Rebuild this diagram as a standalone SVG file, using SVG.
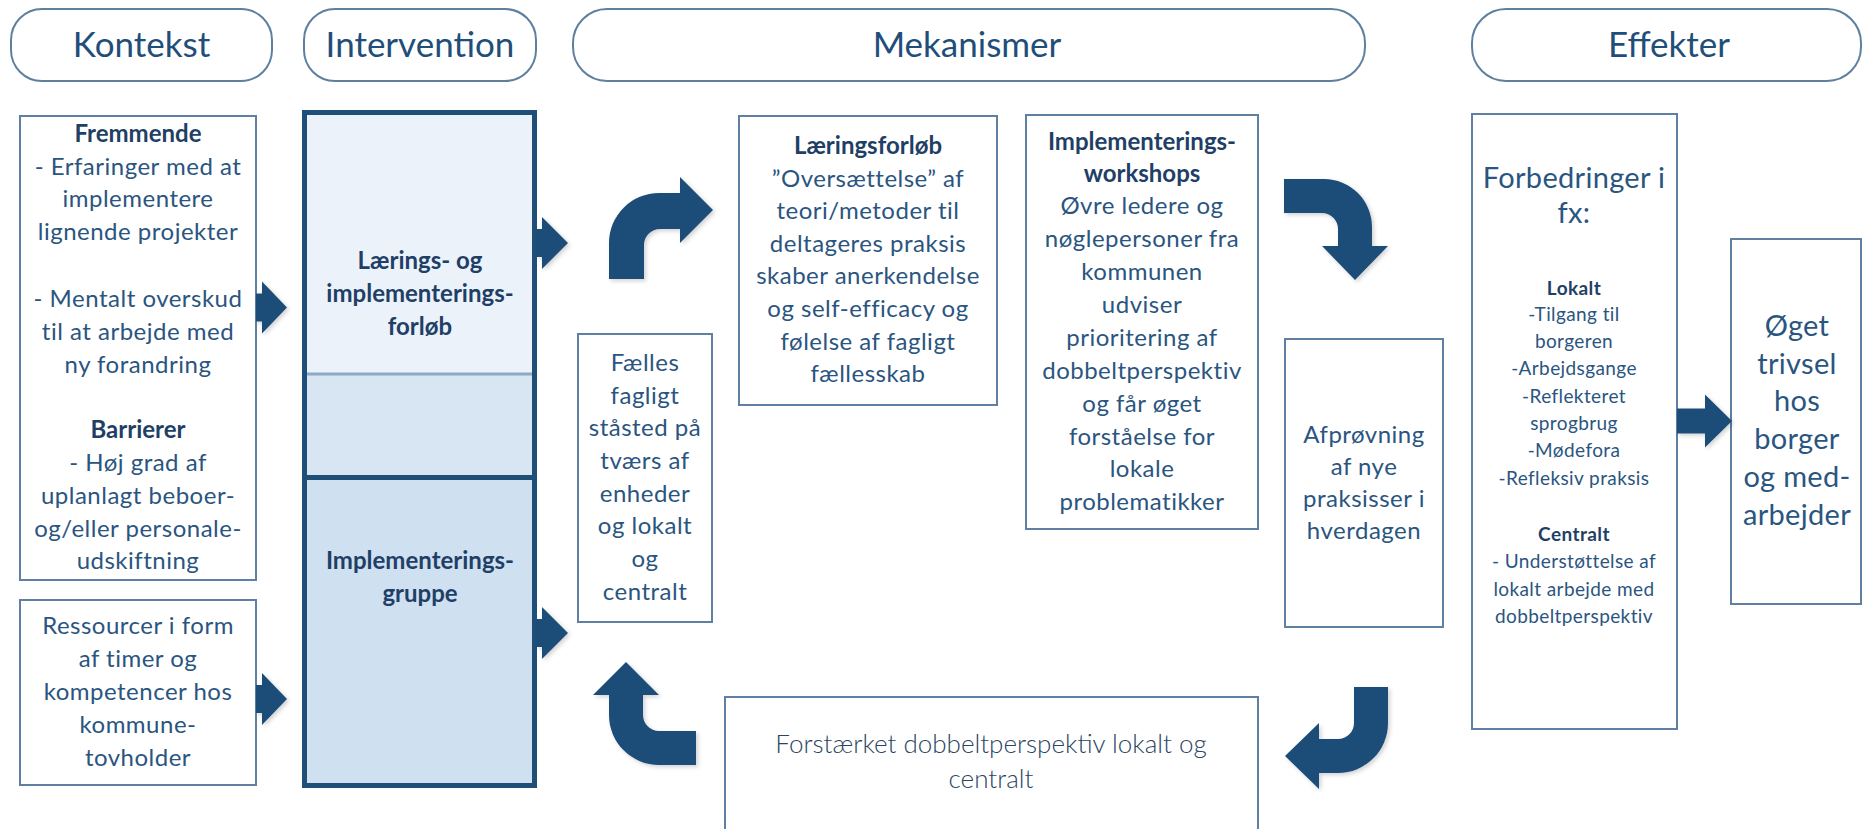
<svg xmlns="http://www.w3.org/2000/svg" width="1863" height="829" viewBox="0 0 1863 829">
  <defs>
    <filter id="soft" x="-20%" y="-20%" width="150%" height="150%">
      <feDropShadow dx="2" dy="2" stdDeviation="2" flood-color="#000" flood-opacity="0.18"/>
    </filter>
  </defs>
  <style>
    .pill { fill: #ffffff; stroke: #5f7f9f; stroke-width: 2; }
    .box { fill: #ffffff; stroke: #5f80a3; stroke-width: 2; }
    .hdr { font-family: Lato, "Liberation Sans", sans-serif; font-weight: 400; font-size: 35px; fill: #1f4e79; text-anchor: middle; }
    .t { font-family: Lato, "Liberation Sans", sans-serif; font-size: 24px; fill: #2a5580; text-anchor: middle; letter-spacing: 0.5px; }
    .b { font-weight: 700; fill: #1f3f66; letter-spacing: 0; }
    .sm { font-size: 19px; letter-spacing: 0.4px; }
    .lg { font-size: 29px; letter-spacing: 0.3px; }
    .lt { font-weight: 300; font-size: 26px; letter-spacing: 0; fill: #2b4461; }
    .arrow { fill: #1f4e79; filter: url(#soft); }
  </style>
  <rect width="1863" height="829" fill="#ffffff"/>

  <!-- column headers -->
  <g id="hdr-kontekst">
    <rect class="pill" x="11" y="9" width="261" height="72" rx="31"/>
    <text class="hdr" x="141.5" y="57">Kontekst</text>
  </g>
  <g id="hdr-intervention">
    <rect class="pill" x="304" y="9" width="232" height="72" rx="31"/>
    <text class="hdr" x="420" y="57">Intervention</text>
  </g>
  <g id="hdr-mekanismer">
    <rect class="pill" x="573" y="9" width="792" height="72" rx="34"/>
    <text class="hdr" x="967" y="57">Mekanismer</text>
  </g>
  <g id="hdr-effekter">
    <rect class="pill" x="1472" y="9" width="389" height="72" rx="34"/>
    <text class="hdr" x="1669" y="57">Effekter</text>
  </g>

  <!-- context -->
  <g id="kontekst-fremmende">
    <rect class="box" x="20" y="116" width="236" height="464"/>
    <text class="t b" x="138" y="142">Fremmende</text>
    <text class="t" x="138" y="175">- Erfaringer med at</text>
    <text class="t" x="138" y="207">implementere</text>
    <text class="t" x="138" y="240">lignende projekter</text>
    <text class="t" x="138" y="307">- Mentalt overskud</text>
    <text class="t" x="138" y="340">til at arbejde med</text>
    <text class="t" x="138" y="373">ny forandring</text>
    <text class="t b" x="138" y="438">Barrierer</text>
    <text class="t" x="138" y="471">- Høj grad af</text>
    <text class="t" x="138" y="504">uplanlagt beboer-</text>
    <text class="t" x="138" y="537">og/eller personale-</text>
    <text class="t" x="138" y="569">udskiftning</text>
  </g>
  <g id="kontekst-ressourcer">
    <rect class="box" x="20" y="600" width="236" height="185"/>
    <text class="t" x="138" y="634">Ressourcer i form</text>
    <text class="t" x="138" y="667">af timer og</text>
    <text class="t" x="138" y="700">kompetencer hos</text>
    <text class="t" x="138" y="733">kommune-</text>
    <text class="t" x="138" y="766">tovholder</text>
  </g>

  <!-- intervention column -->
  <g id="intervention">
    <rect x="304.5" y="112.5" width="230" height="262" fill="#ebf2fa"/>
    <rect x="304.5" y="374" width="230" height="104" fill="#d8e5f3"/>
    <rect x="304.5" y="478" width="230" height="308" fill="#cfe0f1"/>
    <line x1="306" y1="374" x2="533" y2="374" stroke="#8ea9c5" stroke-width="3"/>
    <line x1="304.5" y1="477.5" x2="534.5" y2="477.5" stroke="#1f4e79" stroke-width="5"/>
    <rect x="304.5" y="112.5" width="230" height="673" fill="none" stroke="#1f4e79" stroke-width="5"/>
    <text class="t b" x="420" y="269">Lærings- og</text>
    <text class="t b" x="420" y="302">implementerings-</text>
    <text class="t b" x="420" y="335">forløb</text>
    <text class="t b" x="420" y="569">Implementerings-</text>
    <text class="t b" x="420" y="602">gruppe</text>
  </g>

  <!-- mechanisms -->
  <g id="mek-laeringsforloeb">
    <rect class="box" x="739" y="116" width="258" height="289"/>
    <text class="t b" x="868" y="154">Læringsforløb</text>
    <text class="t" x="868" y="187">”Oversættelse” af</text>
    <text class="t" x="868" y="219">teori/metoder til</text>
    <text class="t" x="868" y="252">deltageres praksis</text>
    <text class="t" x="868" y="284">skaber anerkendelse</text>
    <text class="t" x="868" y="317">og self-efficacy og</text>
    <text class="t" x="868" y="350">følelse af fagligt</text>
    <text class="t" x="868" y="382">fællesskab</text>
  </g>
  <g id="mek-workshops">
    <rect class="box" x="1026" y="115" width="232" height="414"/>
    <text class="t b" x="1142" y="150">Implementerings-</text>
    <text class="t b" x="1142" y="182">workshops</text>
    <text class="t" x="1142" y="214">Øvre ledere og</text>
    <text class="t" x="1142" y="247">nøglepersoner fra</text>
    <text class="t" x="1142" y="280">kommunen</text>
    <text class="t" x="1142" y="313">udviser</text>
    <text class="t" x="1142" y="346">prioritering af</text>
    <text class="t" x="1142" y="379">dobbeltperspektiv</text>
    <text class="t" x="1142" y="412">og får øget</text>
    <text class="t" x="1142" y="445">forståelse for</text>
    <text class="t" x="1142" y="477">lokale</text>
    <text class="t" x="1142" y="510">problematikker</text>
  </g>
  <g id="mek-faelles">
    <rect class="box" x="578" y="334" width="134" height="288"/>
    <text class="t" x="645" y="371">Fælles</text>
    <text class="t" x="645" y="404">fagligt</text>
    <text class="t" x="645" y="436">ståsted på</text>
    <text class="t" x="645" y="469">tværs af</text>
    <text class="t" x="645" y="502">enheder</text>
    <text class="t" x="645" y="534">og lokalt</text>
    <text class="t" x="645" y="567">og</text>
    <text class="t" x="645" y="600">centralt</text>
  </g>
  <g id="mek-afproevning">
    <rect class="box" x="1285" y="339" width="158" height="288"/>
    <text class="t" x="1364" y="443">Afprøvning</text>
    <text class="t" x="1364" y="475">af nye</text>
    <text class="t" x="1364" y="507">praksisser i</text>
    <text class="t" x="1364" y="539">hverdagen</text>
  </g>
  <g id="mek-forstaerket">
    <rect class="box" x="725" y="697" width="533" height="140"/>
    <text class="t lt" x="991" y="753">Forstærket dobbeltperspektiv lokalt og</text>
    <text class="t lt" x="991" y="788">centralt</text>
  </g>

  <!-- effects -->
  <g id="eff-forbedringer">
    <rect class="box" x="1472" y="114" width="205" height="615"/>
    <text class="t lg" x="1574" y="188">Forbedringer i</text>
    <text class="t lg" x="1574" y="223">fx:</text>
    <text class="t sm b" x="1574" y="295">Lokalt</text>
    <text class="t sm" x="1574" y="321">-Tilgang til</text>
    <text class="t sm" x="1574" y="348">borgeren</text>
    <text class="t sm" x="1574" y="375">-Arbejdsgange</text>
    <text class="t sm" x="1574" y="403">-Reflekteret</text>
    <text class="t sm" x="1574" y="430">sprogbrug</text>
    <text class="t sm" x="1574" y="457">-Mødefora</text>
    <text class="t sm" x="1574" y="485">-Refleksiv praksis</text>
    <text class="t sm b" x="1574" y="541">Centralt</text>
    <text class="t sm" x="1574" y="568">- Understøttelse af</text>
    <text class="t sm" x="1574" y="596">lokalt arbejde med</text>
    <text class="t sm" x="1574" y="623">dobbeltperspektiv</text>
  </g>
  <g id="eff-trivsel">
    <rect class="box" x="1731" y="239" width="130" height="365"/>
    <text class="t lg" x="1797" y="336">Øget</text>
    <text class="t lg" x="1797" y="374">trivsel</text>
    <text class="t lg" x="1797" y="411">hos</text>
    <text class="t lg" x="1797" y="449">borger</text>
    <text class="t lg" x="1797" y="487">og med-</text>
    <text class="t lg" x="1797" y="525">arbejder</text>
  </g>

  <!-- connectors -->
  <g id="connectors">
    <polygon class="arrow" points="256,293.5 262,293.5 262,281.5 287,307.5 262,333.5 262,321.5 256,321.5"/>
    <polygon class="arrow" points="256,685 262,685 262,673 287,699 262,725 262,713 256,713"/>
    <polygon class="arrow" points="537,229 542,229 542,217 568,243 542,269 542,257 537,257"/>
    <polygon class="arrow" points="537,619 542,619 542,607 568,633 542,659 542,647 537,647"/>
    <polygon class="arrow" points="1677,408.5 1705,408.5 1705,394.5 1732,421 1705,447.5 1705,433.5 1677,433.5"/>
    <!-- bent arrows of the cycle -->
    <path class="arrow" d="M609 279 L609 243 A50 50 0 0 1 659 193 L680 193 L680 177 L713 210 L680 243 L680 229 L660 229 A16 16 0 0 0 644 245 L644 279 Z"/>
    <path class="arrow" d="M1284 179 L1324 179 A48 48 0 0 1 1372 227 L1372 246 L1388 246 L1355 280 L1322 246 L1338 246 L1338 229 A16 16 0 0 0 1322 213 L1284 213 Z"/>
    <path class="arrow" d="M1354 687 L1388 687 L1388 723 A50 50 0 0 1 1338 773 L1319 773 L1319 789 L1285 756 L1319 723 L1319 739 L1338 739 A16 16 0 0 0 1354 723 Z"/>
    <path class="arrow" d="M696 765 L659 765 A50 50 0 0 1 609 715 L609 695 L593 695 L626 662 L659 695 L643 695 L643 715 A16 16 0 0 0 659 731 L696 731 Z"/>
  </g>
</svg>
